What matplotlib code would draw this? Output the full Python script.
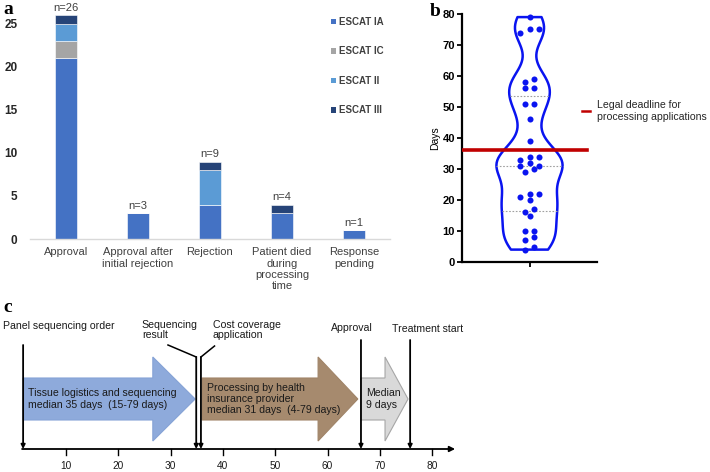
import numpy as np
import matplotlib
matplotlib.use('Agg')
import matplotlib.pyplot as plt
from matplotlib.patches import Polygon, Patch
from matplotlib.lines import Line2D

plt.rcParams['font.family'] = ['Liberation Sans', 'DejaVu Sans']

# ---------------- Panel a data ----------------
categories = ['Approval', 'Approval after\ninitial rejection', 'Rejection',
              'Patient died\nduring\nprocessing\ntime', 'Response\npending']
escat_labels = ['ESCAT IA', 'ESCAT IC', 'ESCAT II', 'ESCAT III']
escat_IA = [21, 3, 4, 3, 1]
escat_IC = [2, 0, 0, 0, 0]
escat_II = [2, 0, 4, 0, 0]
escat_III = [1, 0, 1, 1, 0]
escat_colors = ['#4472c4', '#a5a5a5', '#5b9bd5', '#264478']
a_yticks = [0, 5, 10, 15, 20, 25]

# ---------------- Panel b data ----------------
days = [79, 75, 75, 74, 59, 58, 56, 56, 51, 51, 46, 39, 34, 34, 33, 32, 31, 31,
        30, 29, 22, 22, 21, 20, 17, 16, 15, 10, 10, 8, 7, 5, 4]
legal_deadline = 36
b_yticks = [0, 10, 20, 30, 40, 50, 60, 70, 80]
deadline_label = 'Legal deadline for\nprocessing applications'

# ---------------- Panel c data ----------------
event_labels = ['Panel sequencing order', 'Sequencing\nresult', 'Cost coverage\napplication',
                'Approval', 'Treatment start']
event_days = [1.8, 34.9, 35.8, 66.4, 75.8]
phase_texts = ['Tissue logistics and sequencing\nmedian 35 days  (15-79 days)',
               'Processing by health\ninsurance provider\nmedian 31 days  (4-79 days)',
               'Median\n9 days']
phase_colors = ['#8eaadb', '#a68a6e', '#d9d9d9']
phase_edges = ['#86a3d6', '#a08468', '#a6a6a6']
c_ticks = [10, 20, 30, 40, 50, 60, 70, 80]

W, H = 710, 472
fig = plt.figure(figsize=(W / 100, H / 100), dpi=100)


def rect(l, t, r, b):
    return [l / W, 1 - b / H, (r - l) / W, (b - t) / H]


# ================= Panel a =================
ax_a = fig.add_axes(rect(30, 11, 390, 239))
x = np.arange(len(categories))
bottom = np.zeros(len(categories))
series = [escat_IA, escat_IC, escat_II, escat_III]
for vals, col, lab in zip(series, escat_colors, escat_labels):
    ax_a.bar(x, vals, width=0.3, bottom=bottom, color=col, label=lab,
             edgecolor='white', linewidth=0.4)
    bottom += np.array(vals)
for xi, tot in zip(x, bottom):
    ax_a.text(xi, tot + 0.3, f'n={int(tot)}', ha='center', va='bottom',
              fontsize=8, color='#404040')
ax_a.set_xlim(-0.5, 4.5)
ax_a.set_ylim(0, 26.5)
ax_a.set_xticks(x)
ax_a.set_xticklabels(categories, fontsize=8, color='#404040', linespacing=1.15)
ax_a.set_yticks(a_yticks)
ax_a.tick_params(axis='x', length=0, pad=6)
ax_a.tick_params(axis='y', length=0, pad=9, labelsize=8.5, labelcolor='#262626')
for lbl in ax_a.get_yticklabels():
    lbl.set_fontweight('bold')
for s in ['top', 'right', 'left']:
    ax_a.spines[s].set_visible(False)
ax_a.spines['bottom'].set_color('#d9d9d9')
ax_a.spines['bottom'].set_linewidth(1.0)
handles_a = [Patch(facecolor=c, edgecolor='none') for c in escat_colors]
leg_a = ax_a.legend(handles_a, escat_labels, loc='upper left',
                    bbox_to_anchor=(331 / W, 1 - 17 / H), bbox_transform=fig.transFigure,
                    frameon=False, handlelength=0.55, handleheight=0.55,
                    handletextpad=0.3, labelspacing=2.0, borderpad=0, borderaxespad=0,
                    prop={'weight': 'bold', 'size': 7})
for t in leg_a.get_texts():
    t.set_color('#404040')

# ================= Panel b =================
ax_b = fig.add_axes(rect(462, 14, 597, 262))
parts = ax_b.violinplot([days], positions=[0], widths=0.98, bw_method=0.23,
                        showextrema=False)
body = parts['bodies'][0]
body.set_facecolor('none')
body.set_edgecolor('#0a14f0')
body.set_linewidth(1.8)
body.set_alpha(1)

verts = body.get_paths()[0].vertices
right = verts[verts[:, 0] > 0.001]
order = np.argsort(right[:, 1])
ry, rx = right[order, 1], right[order, 0]
quarts = np.percentile(days, [25, 50, 75], method='weibull')
for q in quarts:
    hw = np.interp(q, ry, rx)
    ax_b.plot([-hw, hw], [q, q], linestyle=(0, (1.5, 1.5)), color='#a0a0a0',
              linewidth=0.8, zorder=2)

# swarm offsets (Prism-like rows)
vals_sorted = sorted(days, reverse=True)
rows = []
for v in vals_sorted:
    if rows and rows[-1][0] - v < 1.5:
        rows[-1].append(v)
    else:
        rows.append([v])
d = 0.148
xs, ys = [], []
for row in rows:
    n = len(row)
    if n % 2 == 1:
        offs = [0]
        k = 1
        while len(offs) < n:
            offs += [k * d, -k * d]
            k += 1
    else:
        offs = []
        k = 0.5
        while len(offs) < n:
            offs += [k * d, -k * d]
            k += 1
    for v, o in zip(row, offs[:n]):
        xs.append(o)
        ys.append(v)
ax_b.scatter(xs, ys, s=19, color='#0a14f0', zorder=4, linewidths=0)

ax_b.axhline(legal_deadline, xmin=0, xmax=(587 - 462) / 135, color='#c00000',
             linewidth=2.6, zorder=3)
ax_b.set_xlim(-1, 1)
ax_b.set_ylim(0, 80)
ax_b.set_yticks(b_yticks)
ax_b.set_xticks([0])
ax_b.set_xticklabels([''])
ax_b.tick_params(axis='both', length=3.5, width=1.3, color='black')
ax_b.tick_params(axis='y', labelsize=8, pad=1.5)
for lbl in ax_b.get_yticklabels():
    lbl.set_fontweight('bold')
for s in ['top', 'right']:
    ax_b.spines[s].set_visible(False)
for s in ['left', 'bottom']:
    ax_b.spines[s].set_linewidth(1.6)
ax_b.set_ylabel('Days', fontsize=7.5, labelpad=2)
leg_b = ax_b.legend([Line2D([], [], color='#c00000', linewidth=1.8)], [deadline_label],
                    loc='center left', bbox_to_anchor=(582 / W, 1 - 111 / H),
                    bbox_transform=fig.transFigure, frameon=False, handlelength=0.8,
                    handletextpad=0.6, borderpad=0, borderaxespad=0, fontsize=7.6)
for t in leg_b.get_texts():
    t.set_color('#262626')

# ================= Panel c =================
px0, pxs = 13.7, 5.23  # pixel of day 0, pixels per day
ax_c = fig.add_axes([0, 0, 1, (H - 300) / H])
ax_c.set_xlim(-px0 / pxs, (W - px0) / pxs)
ax_c.set_ylim(472, 300)
ax_c.axis('off')

axis_y = 449
# timeline axis
ax_c.annotate('', xy=(84.4, axis_y), xytext=(1.6, axis_y),
              arrowprops=dict(arrowstyle='-|>', color='black', lw=1.3,
                              mutation_scale=8, shrinkA=0, shrinkB=0))
for t in c_ticks:
    ax_c.plot([t, t], [axis_y, axis_y + 6], color='black', lw=1.0)
    ax_c.text(t, 466, str(t), ha='center', va='center', fontsize=7.3, color='#1a1a1a')

# block arrows
cy, body_h, head_h = 399, 21, 42
phase_spans = [(event_days[0], event_days[1] - 0.2, 8.1),
               (event_days[2] + 0.2, event_days[3] - 0.6, 7.6),
               (event_days[3], event_days[4] - 0.4, 4.4)]
for (s, e, hl), fc, ec, txt in zip(phase_spans, phase_colors, phase_edges, phase_texts):
    hs = e - hl
    poly = [(s, cy - body_h), (hs, cy - body_h), (hs, cy - head_h), (e, cy),
            (hs, cy + head_h), (hs, cy + body_h), (s, cy + body_h)]
    ax_c.add_patch(Polygon(poly, closed=True, facecolor=fc, edgecolor=ec, lw=0.8, zorder=1))
    ax_c.text(s + 0.9, cy, txt, ha='left', va='center', fontsize=7.6,
              color='#1a1a1a', linespacing=1.15, zorder=3)

# event lines
event_tops = [345, 357, 357, 340, 340]
for ed, top in zip(event_days, event_tops):
    ax_c.annotate('', xy=(ed, axis_y), xytext=(ed, top),
                  arrowprops=dict(arrowstyle='-|>', color='black', lw=1.3,
                                  mutation_scale=6, shrinkA=0, shrinkB=0), zorder=4)
# leader lines for sequencing result / cost coverage application
ax_c.plot([event_days[1], event_days[1] - 5.4], [357, 345], color='black', lw=1.1)
ax_c.plot([event_days[2], event_days[2] + 2.6], [357, 346], color='black', lw=1.1)

label_pos = [(-2.05, 326), (24.5, 330), (38.1, 330), (60.7, 328), (72.3, 329)]
for lab, (lx, ly) in zip(event_labels, label_pos):
    ax_c.text(lx, ly, lab, ha='left', va='center', fontsize=7.6, color='#1a1a1a',
              linespacing=1.1)

# panel letters
for letter, lx, ly in [('a', 3, 10), ('b', 430, 12), ('c', 3, 308)]:
    fig.text(lx / W, 1 - ly / H, letter, fontsize=14, fontweight='bold',
             family=['Liberation Serif', 'DejaVu Serif'], ha='left', va='center')

fig.savefig('out.png', dpi=100)
